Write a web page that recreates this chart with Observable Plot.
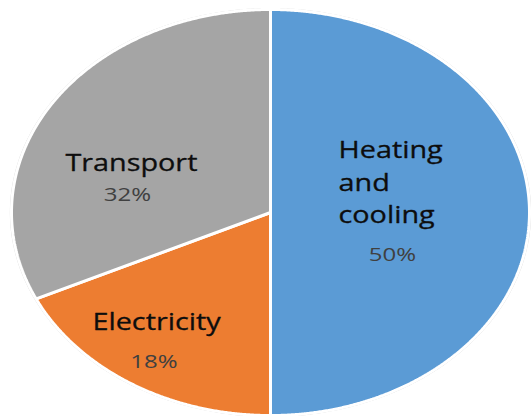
<!DOCTYPE html>
<html>
<head>
<meta charset="utf-8">
<script src="https://cdn.jsdelivr.net/npm/d3@7"></script>
<script src="https://cdn.jsdelivr.net/npm/@observablehq/plot@0.6"></script>
<style>
  html, body { margin: 0; padding: 0; background: #fff; }
</style>
</head>
<body>
<div id="chart"></div>
<script>
// Data
const categories = ["Heating and cooling", "Electricity", "Transport"];
const labels = ["Heating\nand\ncooling", "Electricity", "Transport"];
const shares = [50, 18, 32];
const colors = ["#5B9BD5", "#ED7D31", "#A5A5A5"];

// Layout (label anchor offsets in unit-ellipse coordinates, not data)
const nameAnchor = [[0.2625, -0.159], [-0.440, 0.543], [-0.537, -0.240]];
const pctAnchor  = [[0.471, 0.208], [-0.450, 0.735], [-0.552, -0.088]];
const nameAlign  = ["start", "middle", "middle"];

const arcs = d3.pie().sort(null).value(d => d)(shares);
const pts = [];
arcs.forEach((a, i) => {
  const cat = categories[i];
  pts.push({cat, x: 0, y: 0});
  const n = Math.max(2, Math.ceil((a.endAngle - a.startAngle) / 0.005));
  for (let k = 0; k <= n; k++) {
    const t = a.startAngle + (a.endAngle - a.startAngle) * k / n;
    pts.push({cat, x: Math.sin(t), y: -Math.cos(t)});
  }
  pts.push({cat, x: 0, y: 0});
});
const outline = d3.range(0, 721).map(k => {
  const t = 2 * Math.PI * k / 720;
  return {x: 1.004 * Math.sin(t), y: -1.004 * Math.cos(t)};
});

const nameData = categories.map((c, i) => ({label: labels[i], x: nameAnchor[i][0], y: nameAnchor[i][1], align: nameAlign[i]}));
const pctData = categories.map((c, i) => ({label: shares[i] + "%", x: pctAnchor[i][0], y: pctAnchor[i][1]}));

const chart = Plot.plot({
  width: 531,
  height: 416,
  margin: 0,
  x: {domain: [-1, 1], range: [11, 529], axis: null},
  y: {domain: [-1, 1], range: [9, 415], axis: null},
  color: {domain: categories, range: colors},
  style: {fontFamily: "'Open Sans', sans-serif", background: "#fff"},
  marks: [
    Plot.line(outline, {x: "x", y: "y", stroke: "#d4d4d4", strokeWidth: 1.2}),
    Plot.line(pts, {x: "x", y: "y", z: "cat", fill: "cat", stroke: "white", strokeWidth: 3, strokeLinejoin: "miter"}),
    Plot.text(nameData.filter(d => d.align === "start"), {x: "x", y: "y", text: "label", textAnchor: "start", fontSize: 24, lineHeight: 1.354, fill: "#0d0d0d", stroke: "#0d0d0d", strokeWidth: 0.3, className: "name-label"}),
    Plot.text(nameData.filter(d => d.align === "middle"), {x: "x", y: "y", text: "label", textAnchor: "middle", fontSize: 24, fill: "#0d0d0d", stroke: "#0d0d0d", strokeWidth: 0.3, className: "name-label"}),
    Plot.text(pctData, {x: "x", y: "y", text: "label", textAnchor: "middle", fontSize: 18.5, fill: "#404040", className: "pct-label"})
  ]
});
document.getElementById("chart").appendChild(chart);
// horizontally stretch label glyphs around their anchor point
chart.querySelectorAll(".name-label text").forEach(t => {
  t.setAttribute("transform", (t.getAttribute("transform") || "") + " scale(1.2,1)");
});
chart.querySelectorAll(".pct-label text").forEach(t => {
  t.setAttribute("transform", (t.getAttribute("transform") || "") + " scale(1.3,1)");
});
</script>
</body>
</html>
